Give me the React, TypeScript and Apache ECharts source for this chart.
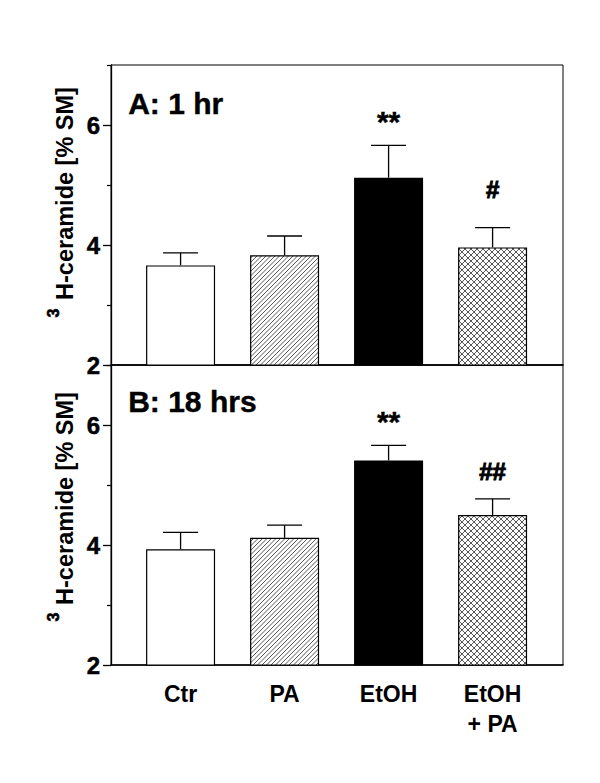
import React, { useEffect, useRef } from "react";
import * as echarts from "echarts";

const categories = ["Ctr", "PA", "EtOH", "EtOH\n+ PA"];
const meanA = [3.66, 3.83, 5.12, 3.96];
const upperA = [3.87, 4.15, 5.66, 4.29];
const meanB = [3.93, 4.12, 5.41, 4.5];
const upperB = [4.21, 4.33, 5.66, 4.77];
const sigA = ["", "", "**", "#"];
const sigB = ["", "", "**", "##"];
const sigYA = [0, 0, 6.15, 4.93];
const sigYB = [0, 0, 6.15, 5.22];
const yLabelTicks = [2, 4, 6];
const yMajorTicks = [2, 4, 6];
const yMinorTicks = [3, 5, 7];
const panelTitles = ["A: 1 hr", "B: 18 hrs"];
const yTitleMain = "H-ceramide [% SM]";
const yTitleSup = "3";

const FONT = "'Liberation Sans', Arial, sans-serif";

function makePattern(T: number, n: number, cross: boolean) {
  const c = document.createElement("canvas");
  c.width = T;
  c.height = T;
  const ctx = c.getContext("2d")!;
  ctx.fillStyle = "#ffffff";
  ctx.fillRect(0, 0, T, T);
  ctx.strokeStyle = "#444444";
  ctx.lineWidth = 0.9;
  const step = T / n;
  ctx.beginPath();
  for (let k = 0; k <= 2 * n + 1; k++) {
    const s = k * step;
    ctx.moveTo(-2, s + 2);
    ctx.lineTo(s + 2, -2);
  }
  if (cross) {
    for (let k = -n - 1; k <= n + 1; k++) {
      const s = k * step;
      ctx.moveTo(-2, -2 - s);
      ctx.lineTo(T + 2, T + 2 - s);
    }
  }
  ctx.stroke();
  return c;
}

export default function App() {
  const ref = useRef<HTMLDivElement>(null);
  useEffect(() => {
    if (!ref.current) return;
    const chart = echarts.init(ref.current, null, { renderer: "svg" });
    const hatch = makePattern(9, 2, false);
    const crossP = makePattern(6, 1, true);
    const fills: any[] = [
      "#ffffff",
      { image: hatch, repeat: "repeat" },
      "#000000",
      { image: crossP, repeat: "repeat" },
    ];
    const xMin = -0.669;
    const xMax = 3.677;
    const grids = [
      { left: 111, top: 65, width: 452, height: 300 },
      { left: 111, top: 365, width: 452, height: 300 },
    ];
    const xAxes: any[] = [0, 1].map((i) => ({
      type: "value",
      gridIndex: i,
      min: xMin,
      max: xMax,
      splitLine: { show: false },
      axisTick: { show: false },
      axisLine: { show: true, onZero: false, lineStyle: { color: "#000", width: 1.6 } },
      axisLabel:
        i === 1
          ? {
              show: true,
              customValues: [0, 1, 2, 3],
              formatter: (v: number) => categories[Math.round(v)] ?? "",
              color: "#000",
              fontFamily: FONT,
              fontWeight: "bold",
              fontSize: 23,
              lineHeight: 30,
              margin: 14,
            }
          : { show: false },
    }));
    const yAxes: any[] = [];
    [0, 1].forEach((i) => {
      yAxes.push({
        type: "value",
        gridIndex: i,
        position: "left",
        min: 2,
        max: 7,
        interval: 1,
        splitLine: { show: false },
        axisLine: { show: true, onZero: false, lineStyle: { color: "#000", width: 1.3 } },
        axisTick: {
          show: true,
          customValues: yMajorTicks,
          length: 8,
          lineStyle: { color: "#000", width: 1.3 },
        },
        axisLabel: {
          formatter: (v: number) => (yLabelTicks.indexOf(v) >= 0 ? String(v) : ""),
          color: "#000",
          fontFamily: FONT,
          fontWeight: "bold",
          fontSize: 24,
          margin: 11,
          textBorderColor: "#000",
          textBorderWidth: 0.5,
        },
      });
      yAxes.push({
        type: "value",
        gridIndex: i,
        position: "left",
        offset: 0,
        min: 2,
        max: 7,
        interval: 1,
        splitLine: { show: false },
        axisLine: { show: false, onZero: false },
        axisTick: {
          show: true,
          customValues: yMinorTicks,
          length: 4,
          lineStyle: { color: "#000", width: 1.2 },
        },
        axisLabel: { show: false },
      });
    });

    const barSeries = (means: number[], idx: number) => ({
      type: "bar",
      xAxisIndex: idx,
      yAxisIndex: idx * 2,
      barWidth: 69,
      data: means.map((v, i) => ({
        value: [i, v],
        itemStyle: { color: fills[i], borderColor: "#000", borderWidth: 1.2 },
      })),
    });

    const errSeries = (means: number[], uppers: number[], sig: string[], sigY: number[], idx: number) => ({
      type: "custom",
      xAxisIndex: idx,
      yAxisIndex: idx * 2,
      z: 5,
      data: means.map((m, i) => [i, m, uppers[i], sigY[i]]),
      renderItem: (params: any, api: any) => {
        const i = api.value(0);
        const p0 = api.coord([i, api.value(1)]);
        const p1 = api.coord([i, api.value(2)]);
        const half = 17.5;
        const children: any[] = [
          {
            type: "line",
            shape: { x1: p0[0], y1: p0[1], x2: p1[0], y2: p1[1] },
            style: { stroke: "#000", lineWidth: 1.3 },
          },
          {
            type: "line",
            shape: { x1: p1[0] - half, y1: p1[1], x2: p1[0] + half, y2: p1[1] },
            style: { stroke: "#000", lineWidth: 1.3 },
          },
        ];
        const s = sig[params.dataIndex];
        if (s) {
          const ps = api.coord([i, api.value(3)]);
          const isStar = s.indexOf("*") >= 0;
          children.push({
            type: "text",
            x: ps[0],
            y: ps[1] + (isStar ? 5 : 0),
            style: {
              text: s,
              fill: "#000",
              stroke: "#000",
              lineWidth: isStar ? 0.4 : 1,
              fontFamily: FONT,
              fontWeight: "bold",
              fontSize: isStar ? 30 : 24,
              align: "center",
              verticalAlign: "middle",
            },
          });
        }
        return { type: "group", children };
      },
    });

    const titleText = (t: string, y: number) => ({
      type: "text",
      left: 128,
      top: y,
      style: {
        text: t,
        fill: "#000",
        stroke: "#000",
        lineWidth: 0.4,
        fontFamily: FONT,
        fontWeight: "bold",
        fontSize: 30,
      },
    });
    const yTitle = (cy: number, supY: number) => [
      {
        type: "text",
        x: 65,
        y: cy,
        rotation: Math.PI / 2,
        style: {
          text: yTitleMain,
          fill: "#000",
          fontFamily: FONT,
          fontWeight: "bold",
          fontSize: 23.5,
          align: "center",
          verticalAlign: "middle",
        },
      },
      {
        type: "text",
        x: 53,
        y: supY,
        rotation: Math.PI / 2,
        style: {
          text: yTitleSup,
          fill: "#000",
          stroke: "#000",
          lineWidth: 0.6,
          fontFamily: FONT,
          fontWeight: "bold",
          fontSize: 16,
          align: "center",
          verticalAlign: "middle",
        },
      },
    ];

    chart.setOption({
      animation: false,
      backgroundColor: "#ffffff",
      grid: grids.map((g) => ({ ...g, show: true, borderColor: "#000", borderWidth: 1, backgroundColor: "transparent" })),
      xAxis: xAxes,
      yAxis: yAxes,
      series: [
        barSeries(meanA, 0),
        barSeries(meanB, 1),
        errSeries(meanA, upperA, sigA, sigYA, 0),
        errSeries(meanB, upperB, sigB, sigYB, 1),
      ],
      graphic: [
        titleText(panelTitles[0], 88),
        titleText(panelTitles[1], 386),
        ...yTitle(193.5, 313),
        ...yTitle(498.5, 617),
      ],
    });
    return () => chart.dispose();
  }, []);
  return <div ref={ref} style={{ width: 600, height: 783, position: "absolute", left: 0, top: 0 }} />;
}
